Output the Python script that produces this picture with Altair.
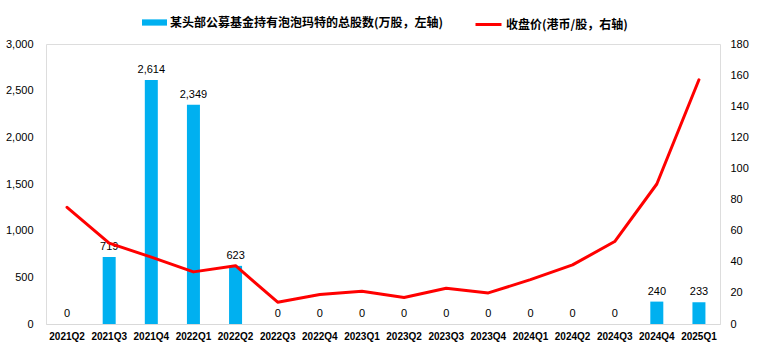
import altair as alt
import pandas as pd

quarters = ["2021Q2", "2021Q3", "2021Q4", "2022Q1", "2022Q2", "2022Q3", "2022Q4",
            "2023Q1", "2023Q2", "2023Q3", "2023Q4", "2024Q1", "2024Q2", "2024Q3",
            "2024Q4", "2025Q1"]
holdings = [0, 719, 2614, 2349, 623, 0, 0, 0, 0, 0, 0, 0, 0, 0, 240, 233]
close_price = [75, 52, 43, 33.5, 37.5, 14, 19, 21, 17, 23, 20, 28.5, 38, 53, 90, 157]

bar_name = "某头部公募基金持有泡泡玛特的总股数(万股，左轴)"
line_name = "收盘价(港币/股，右轴)"

df = pd.DataFrame({
    "q": quarters,
    "holdings": holdings,
    "close": close_price,
    "s1": bar_name,
    "s2": line_name,
})

NUM_FONT = "Liberation Sans Narrow, Arial Narrow, Liberation Sans, Arial"
CJK_FONT = "Noto Sans CJK SC"

x = alt.X("q:N", sort=quarters, title=None,
          scale=alt.Scale(paddingInner=0, paddingOuter=0),
          axis=alt.Axis(labelAngle=0, labelFont=NUM_FONT, labelFontSize=10,
                        labelFontWeight="bold", labelColor="#000000",
                        labelPadding=7, ticks=False, domainColor="#D9D9D9",
                        domainWidth=1, grid=False))

y_left = alt.Y("holdings:Q", title=None,
               scale=alt.Scale(domain=[0, 3000], nice=False),
               axis=alt.Axis(values=[0, 500, 1000, 1500, 2000, 2500, 3000],
                             format=",.0f", domain=False, ticks=False, grid=False,
                             labelFont=NUM_FONT, labelFontSize=11,
                             labelColor="#000000", labelPadding=13))

bars = alt.Chart(df).mark_bar(size=13).encode(
    x=x,
    y=y_left,
    color=alt.Color("s1:N", title=None,
                    scale=alt.Scale(domain=[bar_name], range=["#00B0F0"]),
                    legend=alt.Legend(orient="none", legendX=96, legendY=-34,
                                      symbolType="M-1,-0.25H1V0.25H-1Z",
                                      symbolSize=625, symbolStrokeWidth=0,
                                      labelFont=CJK_FONT, labelFontSize=12,
                                      labelFontWeight="bold", labelColor="#000000",
                                      labelOffset=3, labelLimit=0, padding=0)),
)

labels = alt.Chart(df).mark_text(dy=-7, baseline="alphabetic", font=NUM_FONT,
                                 fontSize=11, color="#000000").encode(
    x=x,
    y=y_left,
    text=alt.Text("holdings:Q", format=",.0f"),
)

line = alt.Chart(df).mark_line(strokeWidth=3, strokeJoin="round", strokeCap="round").encode(
    x=x,
    y=alt.Y("close:Q", title=None,
            scale=alt.Scale(domain=[0, 180], nice=False),
            axis=alt.Axis(orient="right", values=list(range(0, 181, 20)),
                          domain=False, ticks=False, grid=False,
                          labelFont=NUM_FONT, labelFontSize=11,
                          labelColor="#000000", labelPadding=10)),
    color=alt.Color("s2:N", title=None,
                    scale=alt.Scale(domain=[line_name], range=["#FF0000"]),
                    legend=alt.Legend(orient="none", legendX=428, legendY=-34,
                                      symbolType="stroke", symbolSize=676,
                                      symbolStrokeWidth=3,
                                      labelFont=CJK_FONT, labelFontSize=12,
                                      labelFontWeight="bold", labelColor="#000000",
                                      labelOffset=3, labelLimit=0, padding=0)),
)

left = alt.layer(bars, labels)
chart = alt.layer(left, line).resolve_scale(
    y="independent", color="independent"
).resolve_legend(color="independent").properties(
    width=674, height=280,
    autosize=alt.AutoSizeParams(type="none"),
    padding={"left": 46, "top": 44, "right": 38, "bottom": 30},
).configure_view(stroke=None).configure(background="white")

chart.save("out.html", embed_options={"renderer": "svg", "actions": False})
